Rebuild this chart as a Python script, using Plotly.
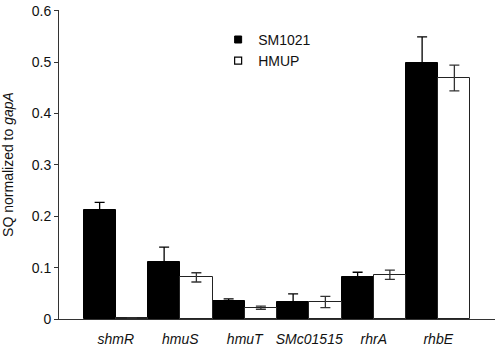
import plotly.graph_objects as go

genes = ["shmR", "hmuS", "hmuT", "SMc01515", "rhrA", "rhbE"]
sm1021 = [0.213, 0.110, 0.035, 0.033, 0.081, 0.499]
sm1021_err = [0.014, 0.030, 0.004, 0.016, 0.010, 0.050]
hmup = [0.002, 0.081, 0.022, 0.033, 0.086, 0.469]
hmup_err = [0.0, 0.009, 0.003, 0.011, 0.009, 0.025]
y_max = 0.6
y_step = 0.1

FONT = "Liberation Sans, Arial, sans-serif"
tick_text = [f"<i>{g}</i>" for g in genes]

fig = go.Figure()
fig.add_trace(go.Bar(
    x=genes, y=sm1021, name="SM1021", showlegend=False,
    marker=dict(color="black", line=dict(color="black", width=1)),
    error_y=dict(type="data", array=sm1021_err, color="black", thickness=1.3, width=5),
))
fig.add_trace(go.Bar(
    x=genes, y=hmup, name="HMUP", showlegend=False,
    marker=dict(color="white", line=dict(color="#222222", width=1)),
    error_y=dict(type="data", array=hmup_err, color="#333333", thickness=1.3, width=5),
))
# legend proxies
fig.add_trace(go.Scatter(
    x=[None], y=[None], mode="markers", name="SM1021",
    marker=dict(symbol="square", size=7, color="black", line=dict(color="black", width=1)),
))
fig.add_trace(go.Scatter(
    x=[None], y=[None], mode="markers", name="HMUP",
    marker=dict(symbol="square", size=7, color="white", line=dict(color="black", width=1.2)),
))

fig.update_layout(
    width=496, height=345,
    margin=dict(l=59, r=1, t=10, b=26, autoexpand=False),
    paper_bgcolor="white", plot_bgcolor="white",
    barmode="group", bargap=0, bargroupgap=0,
    font=dict(family=FONT, size=14, color="#111111"),
    showlegend=True,
    legend=dict(x=0.365, y=0.955, xanchor="left", yanchor="top",
                bgcolor="rgba(0,0,0,0)", font=dict(size=14, family=FONT),
                itemsizing="trace"),
)
fig.update_xaxes(
    type="category", range=[-0.88, 5.88], automargin=False,
    tickmode="array", tickvals=genes, ticktext=tick_text,
    showline=True, linecolor="#333333", linewidth=1,
    ticks="", showgrid=False, zeroline=False,
    tickfont=dict(size=14, family=FONT), ticklabelstandoff=7,
)
fig.update_yaxes(
    range=[0, y_max * 1.002], tickmode="linear", tick0=0, dtick=y_step,
    showline=True, linecolor="#333333", linewidth=1, automargin=False,
    ticks="outside", ticklen=4, tickcolor="#333333",
    showgrid=False, zeroline=False,
    tickfont=dict(size=14, family=FONT),
    title=dict(text="SQ normalized to <i>gapA</i>", font=dict(size=14, family=FONT), standoff=14),
)

fig.write_html("out.html", config={"displayModeBar": False},
               post_script="document.body.style.margin='0';")
